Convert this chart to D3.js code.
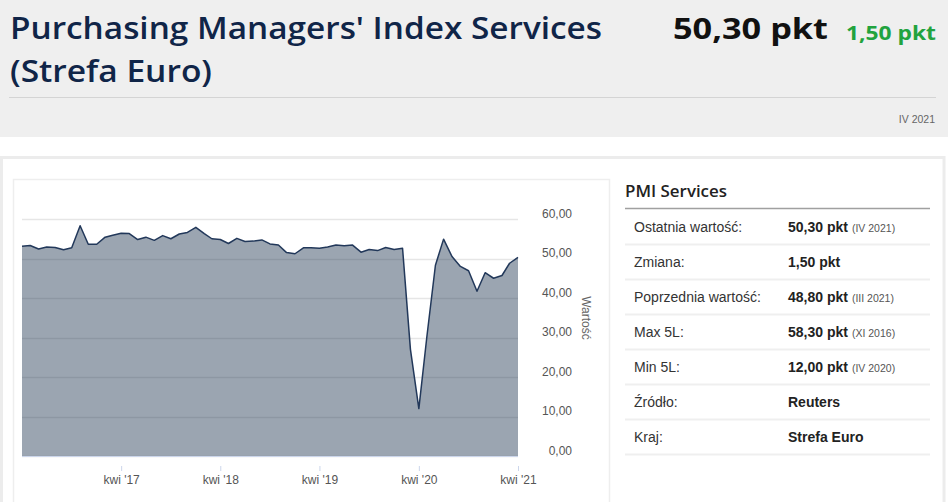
<!DOCTYPE html>
<html>
<head>
<meta charset="utf-8">
<script src="https://cdn.jsdelivr.net/npm/d3@7"></script>
<style>
  body { margin: 0; background: #fff; }
  svg { display: block; }
</style>
</head>
<body>
<svg id="page" width="948" height="502"></svg>
<script>
// monthly PMI services, euro area, IV 2016 .. IV 2021
const startMonth = new Date(2016, 3, 1);
const pmiValues = [
  53.1, 53.3, 52.4, 52.9, 52.8, 52.2, 52.7, 58.3, 53.6,
  53.6, 55.4, 55.9, 56.4, 56.3, 54.8, 55.4, 54.6, 55.8, 55.0, 56.2, 56.6,
  57.9, 56.3, 55.0, 54.8, 53.8, 55.1, 54.3, 54.4, 54.7, 53.7, 53.4, 51.5,
  51.2, 52.7, 52.7, 52.6, 52.9, 53.4, 53.2, 53.4, 51.6, 52.3, 52.0, 52.8,
  52.3, 52.6, 27.0, 12.0, 30.5, 48.3, 54.9, 50.5, 48.0, 46.9, 41.7, 46.4,
  45.0, 45.7, 48.8, 50.3
];
const yTicks = [0, 10, 20, 30, 40, 50, 60];
const xTickYears = [2017, 2018, 2019, 2020, 2021];
const monthShort = "kwi";

const infoLabels = ["Ostatnia wartość:", "Zmiana:", "Poprzednia wartość:", "Max 5L:", "Min 5L:", "Źródło:", "Kraj:"];
const infoValues = ["50,30 pkt", "1,50 pkt", "48,80 pkt", "58,30 pkt", "12,00 pkt", "Reuters", "Strefa Euro"];
const infoDates = ["(IV 2021)", "", "(III 2021)", "(XI 2016)", "(IV 2020)", "", ""];

const data = pmiValues.map((v, i) => ({ date: d3.timeMonth.offset(startMonth, i), value: v }));

const svg = d3.select("#page");
const fmt = d3.formatLocale({ decimal: ",", thousands: " ", grouping: [3], currency: ["", ""] }).format(".2f");

// ---- header
svg.append("rect").attr("x", 0).attr("y", 0).attr("width", 948).attr("height", 137).attr("fill", "#efefef");

svg.append("text").attr("x", 10).attr("y", 38.5)
    .attr("font-family", "'Open Sans', sans-serif").attr("font-size", 31).attr("font-weight", 600)
    .attr("textLength", 592).attr("lengthAdjust", "spacingAndGlyphs")
    .attr("fill", "#102548").text("Purchasing Managers' Index Services");
svg.append("text").attr("x", 10).attr("y", 82)
    .attr("font-family", "'Open Sans', sans-serif").attr("font-size", 31).attr("font-weight", 600)
    .attr("textLength", 202).attr("lengthAdjust", "spacingAndGlyphs")
    .attr("fill", "#102548").text("(Strefa Euro)");

svg.append("text").attr("x", 673).attr("y", 38.5)
    .attr("font-family", "'Open Sans', sans-serif").attr("font-size", 29).attr("font-weight", 700)
    .attr("textLength", 155).attr("lengthAdjust", "spacingAndGlyphs")
    .attr("fill", "#111").text("50,30 pkt");
svg.append("text").attr("x", 846).attr("y", 40)
    .attr("font-family", "'Open Sans', sans-serif").attr("font-size", 20).attr("font-weight", 700)
    .attr("textLength", 90).attr("lengthAdjust", "spacingAndGlyphs")
    .attr("fill", "#22a33e").text("1,50 pkt");

svg.append("line").attr("x1", 9).attr("x2", 936).attr("y1", 97.5).attr("y2", 97.5)
    .attr("stroke", "#d4d4d4").attr("stroke-width", 1);
svg.append("text").attr("x", 935).attr("y", 123).attr("text-anchor", "end")
    .attr("font-family", "'Liberation Sans', Arial, sans-serif").attr("font-size", 10.5)
    .attr("fill", "#666").text("IV 2021");

// ---- outer panel and chart box
svg.append("rect").attr("x", 1.5).attr("y", 157.5).attr("width", 942.5).attr("height", 360)
    .attr("fill", "#fff").attr("stroke", "#ececec").attr("stroke-width", 3);
svg.append("rect").attr("x", 13.5).attr("y", 179.5).attr("width", 596).attr("height", 340)
    .attr("fill", "#fff").attr("stroke", "#eeeeee").attr("stroke-width", 1.5);

// ---- chart
const x = d3.scaleTime().domain([startMonth, data[data.length - 1].date]).range([22, 518]);
const y = d3.scaleLinear().domain([0, 60]).range([456, 219]);

const grid = svg.append("g");
grid.selectAll("line").data(yTicks).join("line")
    .attr("x1", 22).attr("x2", 518)
    .attr("y1", d => Math.round(y(d)) + 0.5).attr("y2", d => Math.round(y(d)) + 0.5)
    .attr("stroke", "#e6e6e6").attr("stroke-width", 1.3);

const area = d3.area().x(d => x(d.date)).y0(y(0)).y1(d => y(d.value));
const line = d3.line().x(d => x(d.date)).y(d => y(d.value));

svg.append("path").datum(data).attr("d", area).attr("fill", "rgba(37,58,86,0.46)");
svg.append("path").datum(data).attr("d", line)
    .attr("fill", "none").attr("stroke", "#22385a").attr("stroke-width", 1.5).attr("stroke-linejoin", "round");

svg.append("line").attr("x1", 22).attr("x2", 518).attr("y1", 456.5).attr("y2", 456.5)
    .attr("stroke", "#ccd6eb").attr("stroke-width", 1);

// y axis on the right
const yAxis = svg.append("g").attr("transform", "translate(572,0)")
    .call(d3.axisRight(y).tickValues(yTicks).tickSize(0).tickFormat(fmt));
yAxis.select(".domain").remove();
yAxis.selectAll("text")
    .attr("x", 0).attr("dy", "-0.15em").attr("text-anchor", "end")
    .attr("font-family", "'Liberation Sans', Arial, sans-serif").attr("font-size", 12).attr("fill", "#555");

svg.append("text").attr("transform", "translate(582,318) rotate(90)").attr("text-anchor", "middle")
    .attr("font-family", "'Liberation Sans', Arial, sans-serif").attr("font-size", 12).attr("fill", "#666")
    .text("Wartość");

// x axis
const xTicks = xTickYears.map(yr => new Date(yr, 3, 1));
const xAxis = svg.append("g").attr("transform", "translate(0,466)")
    .call(d3.axisBottom(x).tickValues(xTicks).tickSize(5).tickSizeOuter(0)
        .tickFormat(d => monthShort + " '" + d3.timeFormat("%y")(d)));
xAxis.select(".domain").remove();
xAxis.selectAll(".tick line").attr("stroke", "#ccd6eb").attr("stroke-width", 1);
xAxis.selectAll("text").attr("y", 14).attr("dy", "0.35em")
    .attr("font-family", "'Liberation Sans', Arial, sans-serif").attr("font-size", 12).attr("fill", "#555");

// ---- info table
svg.append("text").attr("x", 625).attr("y", 197)
    .attr("font-family", "'Open Sans', sans-serif").attr("font-size", 17).attr("font-weight", 600)
    .attr("textLength", 102).attr("lengthAdjust", "spacingAndGlyphs")
    .attr("fill", "#222").text("PMI Services");
svg.append("line").attr("x1", 625).attr("x2", 930).attr("y1", 208.5).attr("y2", 208.5)
    .attr("stroke", "#a0a0a0").attr("stroke-width", 1.3);

const rowY = d3.scaleLinear().domain([0, 1]).range([231.5, 266.5]);
const rows = svg.append("g").selectAll("g").data(infoLabels).join("g")
    .attr("transform", (d, i) => `translate(0,${rowY(i)})`);
rows.append("line").attr("x1", 625).attr("x2", 930).attr("y1", 13).attr("y2", 13)
    .attr("stroke", "#efefef").attr("stroke-width", 2);
rows.append("text").attr("x", 634)
    .attr("font-family", "'Liberation Sans', Arial, sans-serif").attr("font-size", 14).attr("fill", "#333")
    .text(d => d);
const vals = rows.append("text").attr("x", 788)
    .attr("font-family", "'Liberation Sans', Arial, sans-serif").attr("fill", "#222");
vals.append("tspan").attr("font-size", 14).attr("font-weight", 700).text((d, i) => infoValues[i]);
vals.append("tspan").attr("font-size", 10.5).attr("fill", "#555").attr("dx", 4).text((d, i) => infoDates[i]);
</script>
</body>
</html>
